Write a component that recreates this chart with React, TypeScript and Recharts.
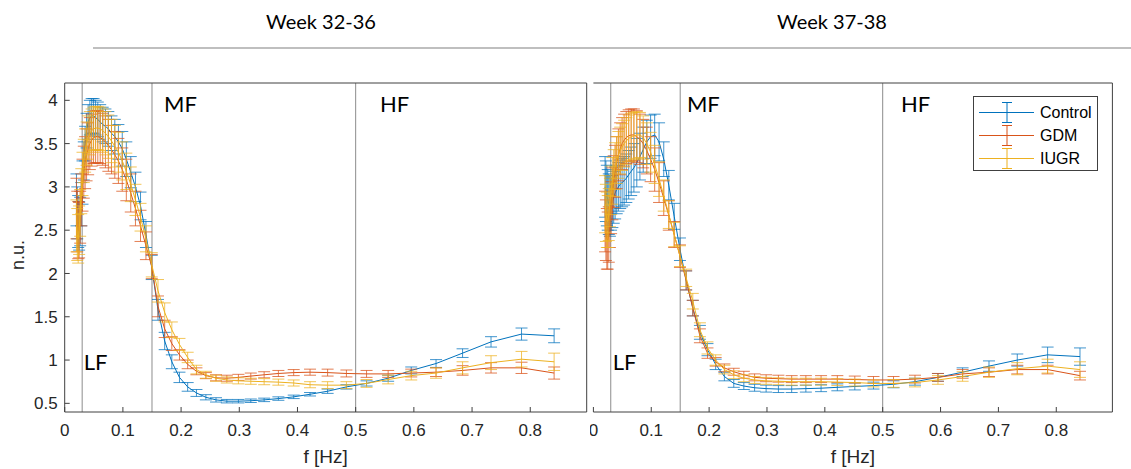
import React from 'react';
import { ComposedChart, Line, XAxis, YAxis, ErrorBar, ReferenceLine, ReferenceDot, Legend } from 'recharts';

// frequency grid (Hz), shared by every group and both panels
const freqs = [
  0.0202, 0.0216, 0.0232, 0.0248, 0.0266, 0.0285, 0.0306, 0.0328, 0.0351, 0.0376,
  0.0403, 0.0432, 0.0463, 0.0496, 0.0531, 0.0569, 0.061, 0.0653, 0.07, 0.075,
  0.0804, 0.0861, 0.0923, 0.0989, 0.1059, 0.1135, 0.1216, 0.1303, 0.1396, 0.1496,
  0.1603, 0.1718, 0.1841, 0.1972, 0.2113, 0.2264, 0.2426, 0.26, 0.2786, 0.2985,
  0.3198, 0.3427, 0.3672, 0.3935, 0.4216, 0.4518, 0.4841, 0.5187, 0.5558, 0.5955,
  0.6381, 0.6837, 0.7326, 0.785, 0.841,
];

const xTicks = [0, 0.1, 0.2, 0.3, 0.4, 0.5, 0.6, 0.7, 0.8];
const yTicks = [0.5, 1, 1.5, 2, 2.5, 3, 3.5, 4];
const bandEdges = [0.03, 0.15, 0.5];
const bandNames = ['LF', 'MF', 'HF'];

const groups = ['Control', 'GDM', 'IUGR'];
const groupKeys = ['control', 'gdm', 'iugr'];
const groupColors = ['#0072BD', '#D95319', '#EDB120'];

const panelTitles = ['Week 32-36', 'Week 37-38'];

// Week 32-36
const control3236 = [
  2.85, 2.7, 2.6, 2.55, 2.6, 2.8, 3.05, 3.3, 3.5, 3.65,
  3.75, 3.8, 3.82, 3.82, 3.8, 3.78, 3.75, 3.72, 3.7, 3.67,
  3.62, 3.58, 3.52, 3.44, 3.32, 3.17, 3.0, 2.78, 2.45, 2.07,
  1.58, 1.22, 0.98, 0.8, 0.69, 0.62, 0.57, 0.54, 0.525, 0.525,
  0.53, 0.54, 0.555, 0.575, 0.605, 0.64, 0.69, 0.73, 0.79, 0.88,
  0.96, 1.08, 1.21, 1.3, 1.28,
];
const control3236Err = [
  0.3, 0.3, 0.3, 0.28, 0.28, 0.25, 0.25, 0.22, 0.2, 0.2,
  0.2, 0.2, 0.2, 0.2, 0.2, 0.2, 0.2, 0.2, 0.2, 0.2,
  0.2, 0.2, 0.2, 0.2, 0.2, 0.18, 0.17, 0.16, 0.15, 0.14,
  0.12, 0.1, 0.08, 0.06, 0.05, 0.04, 0.03, 0.025, 0.02, 0.02,
  0.02, 0.02, 0.02, 0.02, 0.02, 0.025, 0.025, 0.03, 0.035, 0.04,
  0.045, 0.05, 0.06, 0.07, 0.08,
];
const gdm3236 = [
  2.75, 2.6, 2.5, 2.5, 2.65, 2.85, 3.02, 3.17, 3.28, 3.37,
  3.44, 3.5, 3.54, 3.57, 3.58, 3.58, 3.57, 3.55, 3.52, 3.48,
  3.43, 3.37, 3.3, 3.2, 3.08, 2.93, 2.75, 2.55, 2.32, 2.08,
  1.62, 1.36, 1.19, 1.06, 0.95, 0.87, 0.82, 0.795, 0.79, 0.8,
  0.815, 0.83, 0.845, 0.855, 0.86, 0.855, 0.845, 0.84, 0.84, 0.85,
  0.86, 0.88, 0.91, 0.91, 0.85,
];
const gdm3236Err = [
  0.35, 0.35, 0.33, 0.32, 0.3, 0.3, 0.3, 0.3, 0.3, 0.3,
  0.3, 0.3, 0.3, 0.3, 0.3, 0.3, 0.3, 0.3, 0.3, 0.3,
  0.28, 0.27, 0.26, 0.25, 0.24, 0.22, 0.2, 0.18, 0.16, 0.14,
  0.12, 0.1, 0.08, 0.06, 0.05, 0.04, 0.035, 0.035, 0.035, 0.035,
  0.035, 0.035, 0.035, 0.035, 0.035, 0.04, 0.04, 0.04, 0.04, 0.045,
  0.05, 0.055, 0.06, 0.065, 0.07,
];
const iugr3236 = [
  2.55, 2.45, 2.4, 2.5, 2.7, 2.95, 3.15, 3.3, 3.42, 3.5,
  3.57, 3.62, 3.65, 3.67, 3.68, 3.68, 3.67, 3.65, 3.62, 3.58,
  3.53, 3.47, 3.4, 3.3, 3.18, 3.03, 2.85, 2.65, 2.4, 2.1,
  1.8, 1.55, 1.35, 1.18, 1.03, 0.89, 0.83, 0.79, 0.77, 0.76,
  0.755, 0.75, 0.745, 0.735, 0.715, 0.71, 0.71, 0.73, 0.775, 0.82,
  0.85, 0.91, 0.97, 1.01, 0.98,
];
const iugr3236Err = [
  0.3, 0.3, 0.28, 0.28, 0.27, 0.26, 0.25, 0.25, 0.25, 0.25,
  0.25, 0.25, 0.25, 0.25, 0.25, 0.25, 0.25, 0.25, 0.25, 0.25,
  0.25, 0.24, 0.23, 0.22, 0.21, 0.2, 0.18, 0.16, 0.15, 0.14,
  0.13, 0.11, 0.09, 0.07, 0.06, 0.05, 0.04, 0.035, 0.035, 0.035,
  0.035, 0.035, 0.035, 0.035, 0.035, 0.04, 0.04, 0.045, 0.05, 0.05,
  0.06, 0.07, 0.08, 0.09, 0.1,
];

// Week 37-38
const control3738 = [
  3.0, 2.95, 2.9, 2.85, 2.8, 2.78, 2.8, 2.83, 2.88, 2.93,
  2.97, 3.0, 3.03, 3.05, 3.07, 3.1, 3.14, 3.18, 3.22, 3.28,
  3.35, 3.43, 3.52, 3.58, 3.6, 3.52, 3.32, 3.02, 2.66, 2.28,
  1.92, 1.6, 1.32, 1.12, 0.95, 0.81, 0.73, 0.7, 0.68, 0.67,
  0.665, 0.665, 0.67, 0.675, 0.685, 0.695, 0.705, 0.72, 0.75, 0.8,
  0.86, 0.93, 1.0, 1.06, 1.04,
];
const control3738Err = [
  0.35, 0.35, 0.35, 0.35, 0.35, 0.35, 0.3, 0.3, 0.3, 0.3,
  0.28, 0.28, 0.28, 0.28, 0.28, 0.28, 0.28, 0.28, 0.28, 0.28,
  0.27, 0.26, 0.25, 0.25, 0.24, 0.22, 0.2, 0.17, 0.15, 0.13,
  0.11, 0.09, 0.08, 0.07, 0.06, 0.05, 0.045, 0.04, 0.04, 0.04,
  0.04, 0.04, 0.04, 0.04, 0.04, 0.04, 0.04, 0.04, 0.04, 0.045,
  0.05, 0.06, 0.07, 0.09, 0.1,
];
const gdm3738 = [
  2.6, 2.5, 2.4, 2.38, 2.45, 2.6, 2.76, 2.92, 3.06, 3.18,
  3.28, 3.37, 3.44, 3.5, 3.54, 3.57, 3.59, 3.6, 3.6, 3.58,
  3.55, 3.5, 3.42, 3.32, 3.2, 3.05, 2.87, 2.67, 2.45, 2.2,
  1.92, 1.6, 1.28, 1.08, 0.98, 0.91, 0.865, 0.83, 0.8, 0.79,
  0.785, 0.78, 0.78, 0.78, 0.78, 0.775, 0.77, 0.77, 0.78, 0.8,
  0.84, 0.86, 0.89, 0.89, 0.82,
];
const gdm3738Err = [
  0.35, 0.35, 0.35, 0.33, 0.32, 0.3, 0.3, 0.3, 0.3, 0.3,
  0.3, 0.3, 0.3, 0.3, 0.3, 0.3, 0.3, 0.3, 0.3, 0.3,
  0.29, 0.28, 0.27, 0.26, 0.25, 0.23, 0.2, 0.17, 0.15, 0.13,
  0.11, 0.09, 0.08, 0.06, 0.05, 0.045, 0.04, 0.04, 0.04, 0.04,
  0.04, 0.04, 0.04, 0.04, 0.04, 0.04, 0.04, 0.04, 0.045, 0.045,
  0.05, 0.05, 0.05, 0.05, 0.05,
];
const iugr3738 = [
  2.8, 2.7, 2.62, 2.6, 2.68, 2.82, 2.96, 3.07, 3.16, 3.24,
  3.31, 3.37, 3.42, 3.46, 3.5, 3.53, 3.56, 3.58, 3.59, 3.6,
  3.6, 3.57, 3.5, 3.4, 3.26, 3.09, 2.9, 2.68, 2.45, 2.2,
  1.95, 1.68, 1.35, 1.14, 1.0, 0.89, 0.83, 0.79, 0.77, 0.76,
  0.755, 0.75, 0.75, 0.75, 0.745, 0.74, 0.73, 0.73, 0.74, 0.77,
  0.81, 0.86, 0.9, 0.93, 0.89,
];
const iugr3738Err = [
  0.33, 0.33, 0.32, 0.3, 0.3, 0.28, 0.28, 0.27, 0.27, 0.27,
  0.27, 0.27, 0.27, 0.27, 0.27, 0.27, 0.27, 0.27, 0.27, 0.27,
  0.26, 0.25, 0.24, 0.23, 0.22, 0.2, 0.18, 0.16, 0.14, 0.12,
  0.1, 0.09, 0.08, 0.07, 0.06, 0.05, 0.045, 0.04, 0.04, 0.04,
  0.04, 0.04, 0.04, 0.04, 0.04, 0.04, 0.04, 0.045, 0.05, 0.05,
  0.055, 0.06, 0.07, 0.08, 0.09,
];

const buildRows = (c: number[], cE: number[], g: number[], gE: number[], u: number[], uE: number[]) =>
  freqs.map((f, i) => ({
    f,
    control: c[i], controlErr: cE[i],
    gdm: g[i], gdmErr: gE[i],
    iugr: u[i], iugrErr: uE[i],
  }));

const rows3236 = buildRows(control3236, control3236Err, gdm3236, gdm3236Err, iugr3236, iugr3236Err);
const rows3738 = buildRows(control3738, control3738Err, gdm3738, gdm3738Err, iugr3738, iugr3738Err);

const AXIS = '#404040';
const SANS = '"Liberation Sans", Arial, sans-serif';
const tickStyle = { fontFamily: SANS, fontSize: 17, fill: '#262626' };

const LegendBox = () => (
  <div style={{ width: 125, height: 75, boxSizing: 'border-box', border: `1px solid ${AXIS}`, background: '#fff', paddingTop: 4 }}>
    {groups.map((name, i) => (
      <div key={name} style={{ display: 'flex', alignItems: 'center', height: 23 }}>
        <svg width={66} height={23}>
          <line x1={5} x2={60} y1={11.5} y2={11.5} stroke={groupColors[i]} strokeWidth={1} />
          <line x1={33} x2={33} y1={1.5} y2={21.5} stroke={groupColors[i]} strokeWidth={1} />
          <line x1={28} x2={38} y1={1.5} y2={1.5} stroke={groupColors[i]} strokeWidth={1} />
          <line x1={28} x2={38} y1={21.5} y2={21.5} stroke={groupColors[i]} strokeWidth={1} />
        </svg>
        <span style={{ fontFamily: SANS, fontSize: 16, color: '#000' }}>{name}</span>
      </div>
    ))}
  </div>
);

interface PanelProps {
  data: typeof rows3236;
  width: number;
  margin: { top: number; right: number; bottom: number; left: number };
  leftAxisWidth: number;
  showYLabels: boolean;
  showLegend: boolean;
  labelPos: { f: number; v: number }[];
}

const Panel: React.FC<PanelProps> = ({ data, width, margin, leftAxisWidth, showYLabels, showLegend, labelPos }) => (
  <ComposedChart width={width} height={469} data={data} margin={margin}>
    <XAxis
      type="number"
      dataKey="f"
      domain={[0, 0.897]}
      allowDataOverflow
      ticks={xTicks}
      interval={0}
      height={57}
      stroke={AXIS}
      tickSize={-5}
      tickMargin={17}
      tick={tickStyle}
      label={{ value: 'f [Hz]', position: 'insideBottom', offset: 6, style: { fontFamily: SANS, fontSize: 19, fill: '#262626' } }}
    />
    <XAxis xAxisId="top" orientation="top" type="number" dataKey="f" domain={[0, 0.897]} allowDataOverflow ticks={xTicks} interval={0} height={1} stroke={AXIS} tickSize={-5} tick={false} />
    <YAxis
      type="number"
      domain={[0.4, 4.2]}
      allowDataOverflow
      ticks={yTicks}
      interval={0}
      width={leftAxisWidth}
      stroke={AXIS}
      tickSize={-5}
      tickMargin={12}
      tick={showYLabels ? tickStyle : false}
    />
    <YAxis yAxisId="right" orientation="right" type="number" domain={[0.4, 4.2]} allowDataOverflow ticks={yTicks} interval={0} width={1} stroke={AXIS} tickSize={-5} tick={false} />
    {bandEdges.map((x) => (
      <ReferenceLine key={x} x={x} stroke="#8c8c8c" strokeWidth={1} />
    ))}
    {bandNames.map((name, i) => (
      <ReferenceDot
        key={name}
        x={labelPos[i].f}
        y={labelPos[i].v}
        r={0}
        stroke="none"
        fill="none"
        label={{ value: name, position: 'center', style: { fontFamily: 'Lato, "Open Sans", sans-serif', fontSize: 22, fill: '#000' } }}
      />
    ))}
    {groupKeys.map((key, i) => (
      <Line
        key={key}
        type="linear"
        dataKey={key}
        name={groups[i]}
        stroke={groupColors[i]}
        strokeWidth={1}
        dot={false}
        isAnimationActive={false}
      >
        <ErrorBar dataKey={`${key}Err`} direction="y" width={6} stroke={groupColors[i]} strokeWidth={1} strokeOpacity={0.75} />
      </Line>
    ))}
    {/* invisible series so the secondary top / right axes get drawn as the box frame */}
    <Line xAxisId="top" yAxisId="right" dataKey="control" stroke="none" dot={false} activeDot={false} legendType="none" isAnimationActive={false} />
    {showLegend && (
      <Legend
        layout="vertical"
        align="center"
        verticalAlign="middle"
        content={() => <LegendBox />}
        wrapperStyle={{ left: 383, top: 96, width: 125, height: 75 }}
      />
    )}
  </ComposedChart>
);

export default function App() {
  return (
    <div style={{ position: 'absolute', left: 0, top: 0, width: 1131, height: 469, background: '#fff', overflow: 'hidden' }}>
      <div style={{ position: 'absolute', left: 221, width: 200, top: 9, textAlign: 'center', fontFamily: 'Lato, "Open Sans", sans-serif', fontSize: 20, color: '#000' }}>
        {panelTitles[0]}
      </div>
      <div style={{ position: 'absolute', left: 732, width: 200, top: 9, textAlign: 'center', fontFamily: 'Lato, "Open Sans", sans-serif', fontSize: 20, color: '#000' }}>
        {panelTitles[1]}
      </div>
      <div style={{ position: 'absolute', left: 93, top: 47, width: 1038, height: 2, background: '#bfbfbf' }} />
      <div
        style={{
          position: 'absolute', left: 18, top: 255, transform: 'translate(-50%, -50%) rotate(-90deg)',
          fontFamily: SANS, fontSize: 18, color: '#262626', whiteSpace: 'nowrap',
        }}
      >
        n.u.
      </div>
      <div style={{ position: 'absolute', left: 0, top: 0 }}>
        <Panel
          data={rows3236}
          width={590}
          margin={{ top: 82, right: 2.3, bottom: 0, left: 0 }}
          leftAxisWidth={64.7}
          showYLabels
          showLegend={false}
          labelPos={[{ f: 0.053, v: 0.98 }, { f: 0.199, v: 3.95 }, { f: 0.567, v: 3.95 }]}
        />
      </div>
      <div style={{ position: 'absolute', left: 590, top: 0 }}>
        <Panel
          data={rows3738}
          width={541}
          margin={{ top: 82, right: 17.6, bottom: 0, left: 3.4 }}
          leftAxisWidth={0}
          showYLabels={false}
          showLegend
          labelPos={[{ f: 0.054, v: 0.98 }, { f: 0.19, v: 3.95 }, { f: 0.557, v: 3.95 }]}
        />
      </div>
    </div>
  );
}
